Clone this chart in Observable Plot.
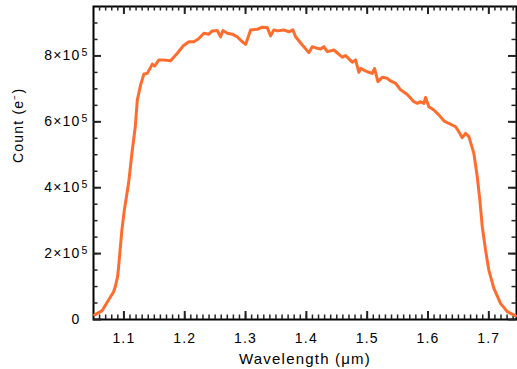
<!DOCTYPE html>
<html><head><meta charset="utf-8">
<script src="https://cdn.jsdelivr.net/npm/d3@7"></script>
<script src="https://cdn.jsdelivr.net/npm/@observablehq/plot@0.6"></script>
<style>body{margin:0;background:#fff}</style>
</head><body><div id="chart"></div>
<script>
// Wavelength (µm) and detected counts (electrons)
const wavelength = [1.0518,1.0638,1.0720,1.0831,1.0859,1.0896,1.0913,1.0967,1.1007,1.1077,1.1132,1.1187,1.1220,1.1275,1.1329,1.1385,1.1467,1.1505,1.1575,1.1631,1.1768,1.1878,1.1976,1.2069,1.2151,1.2233,1.2315,1.2397,1.2453,1.2535,1.2590,1.2628,1.2700,1.2782,1.2864,1.2946,1.3001,1.3083,1.3193,1.3275,1.3357,1.3412,1.3466,1.3522,1.3630,1.3713,1.3778,1.3823,1.3933,1.4041,1.4097,1.4179,1.4234,1.4288,1.4344,1.4452,1.4590,1.4645,1.4755,1.4809,1.4863,1.4891,1.5001,1.5083,1.5121,1.5176,1.5248,1.5330,1.5384,1.5467,1.5549,1.5659,1.5767,1.5823,1.5878,1.5932,1.5960,1.6014,1.6096,1.6178,1.6261,1.6343,1.6453,1.6507,1.6563,1.6617,1.6672,1.6754,1.6810,1.6852,1.6892,1.6946,1.7000,1.7082,1.7192,1.7303,1.7439];
const counts = [14e3,26e3,51e3,84e3,100e3,130e3,160e3,272e3,332e3,414e3,505e3,585e3,666e3,712e3,745e3,747e3,775e3,769e3,788e3,788e3,785e3,808e3,831e3,843e3,843e3,853e3,869e3,866e3,876e3,877e3,858e3,877e3,869e3,866e3,858e3,843e3,835e3,879e3,881e3,887e3,886e3,861e3,879e3,876e3,879e3,873e3,879e3,858e3,833e3,810e3,828e3,823e3,821e3,828e3,813e3,818e3,796e3,801e3,781e3,788e3,750e3,762e3,752e3,747e3,762e3,722e3,735e3,732e3,724e3,717e3,697e3,683e3,661e3,656e3,661e3,656e3,674e3,646e3,636e3,621e3,603e3,595e3,585e3,570e3,552e3,565e3,555e3,504e3,433e3,363e3,282e3,211e3,150e3,95e3,49e3,24e3,11e3];

const xTickValues = [1.1, 1.2, 1.3, 1.4, 1.5, 1.6, 1.7];
const xTickLabels = ["1.1", "1.2", "1.3", "1.4", "1.5", "1.6", "1.7"];
const yTickValues = [0, 2e5, 4e5, 6e5, 8e5];
const yTickMantissa = ["0", "2\u00d710", "4\u00d710", "6\u00d710", "8\u00d710"];
const yExpValues = [2e5, 4e5, 6e5, 8e5];
const yExpLabels = ["5", "5", "5", "5"];
const xMinorTicks = d3.range(106, 175).map(i => i / 100);
const yMinorTicks = d3.range(1, 19).map(i => i * 5e4);

const W = 517, H = 369, mL = 93, mR = 1, mT = 6, mB = 50;
const innerW = W - mL - mR, innerH = H - mT - mB;
const majorLen = 8, minorLen = 4.5;
const tickColor = "#222";

const chart = Plot.plot({
  width: W, height: H,
  marginLeft: mL, marginRight: mR, marginTop: mT, marginBottom: mB,
  style: {fontFamily: "'Liberation Sans', Arial, sans-serif", fontSize: "14px", letterSpacing: "1.2px", color: "#000", background: "#fff"},
  x: {domain: [1.05, 1.7455], axis: null},
  y: {domain: [0, 9.5e5], axis: null},
  marks: [
    Plot.frame({stroke: "#000", strokeWidth: 2, fill: "none"}),
    // bottom ticks
    Plot.tickX(xMinorTicks, {x: d => d, stroke: tickColor, strokeWidth: 1.5, insetTop: innerH - minorLen}),
    Plot.tickX(xTickValues, {x: d => d, stroke: tickColor, strokeWidth: 2, insetTop: innerH - majorLen}),
    // top ticks
    Plot.tickX(xMinorTicks, {x: d => d, stroke: tickColor, strokeWidth: 1.5, insetBottom: innerH - minorLen}),
    Plot.tickX(xTickValues, {x: d => d, stroke: tickColor, strokeWidth: 2, insetBottom: innerH - majorLen}),
    // left ticks
    Plot.tickY(yMinorTicks, {y: d => d, stroke: tickColor, strokeWidth: 1.5, insetRight: innerW - minorLen}),
    Plot.tickY(yTickValues, {y: d => d, stroke: tickColor, strokeWidth: 2, insetRight: innerW - majorLen}),
    // right ticks
    Plot.tickY(yMinorTicks, {y: d => d, stroke: tickColor, strokeWidth: 1.5, insetLeft: innerW - minorLen}),
    Plot.tickY(yTickValues, {y: d => d, stroke: tickColor, strokeWidth: 2, insetLeft: innerW - majorLen}),
    Plot.axisX(xTickValues, {anchor: "bottom", tickSize: 0, tickPadding: 14, label: null, tickFormat: d => xTickLabels[xTickValues.indexOf(d)]}),
    Plot.axisY(yTickValues, {anchor: "left", tickSize: 0, tickPadding: 13, label: null, tickFormat: d => yTickMantissa[yTickValues.indexOf(d)]}),
    // superscript exponents of the y tick labels
    Plot.text(yExpValues, {y: d => d, frameAnchor: "left", dx: -5, dy: -3, textAnchor: "end", fontSize: 10.5, text: (d, i) => yExpLabels[i]}),
    Plot.text(["Wavelength (\u03bcm)"], {frameAnchor: "bottom", dy: 44, lineAnchor: "bottom", fontSize: 15, text: d => d}),
    Plot.text(["Count (e\u207b)"], {frameAnchor: "left", rotate: -90, dx: -71, lineAnchor: "bottom", fontSize: 14, text: d => d}),
    Plot.line(wavelength, {x: d => d, y: (d, i) => counts[i], stroke: "#ff6d2e", strokeWidth: 3, strokeLinejoin: "round"})
  ]
});
document.getElementById("chart").appendChild(chart);
</script>
</body></html>
